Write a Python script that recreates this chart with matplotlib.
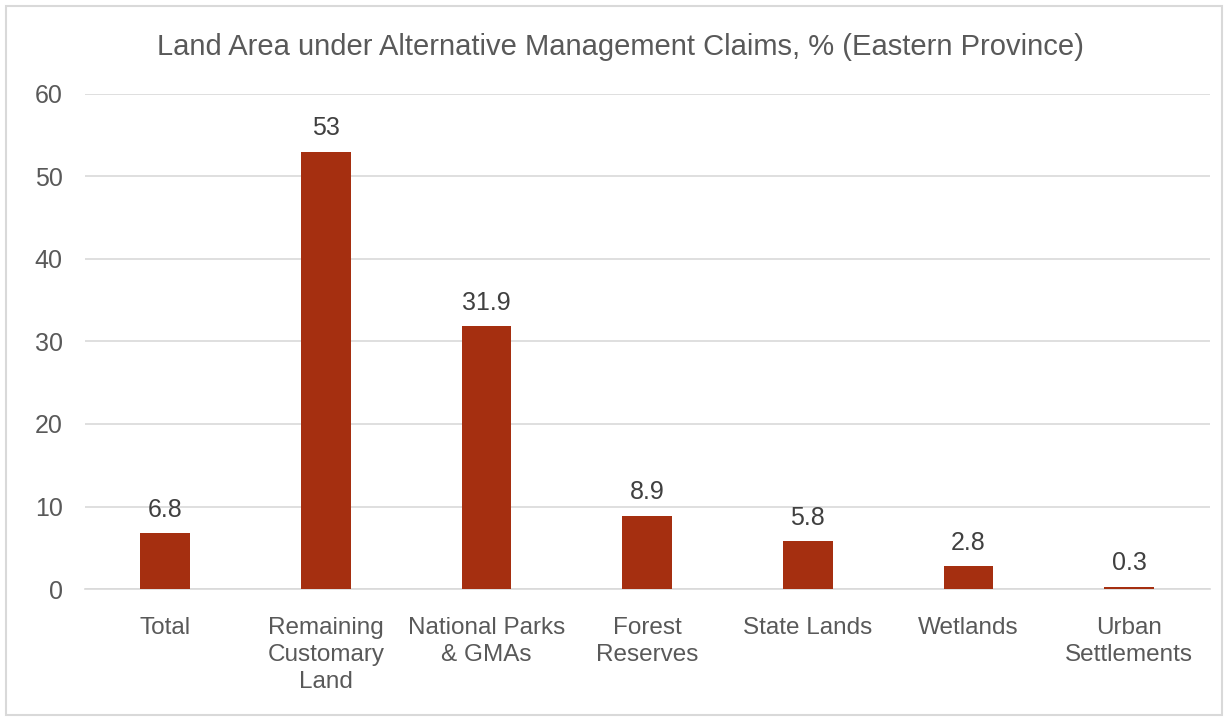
import matplotlib.pyplot as plt
from matplotlib.patches import Rectangle

categories = ['Total', 'Remaining\nCustomary\nLand', 'National Parks\n& GMAs', 'Forest\nReserves',
              'State Lands', 'Wetlands', 'Urban\nSettlements']
values = [6.8, 53, 31.9, 8.9, 5.8, 2.8, 0.3]
labels = ['6.8', '53', '31.9', '8.9', '5.8', '2.8', '0.3']
yticks = [0, 10, 20, 30, 40, 50, 60]

plt.rcParams['font.family'] = ['Liberation Sans', 'DejaVu Sans']

fig = plt.figure(figsize=(12.28, 7.21), dpi=100)
ax = fig.add_axes([0.069, 0.183, 0.916, 0.687])

x = list(range(len(categories)))
bars = ax.bar(x, values, width=0.31, color='#A52F10', zorder=3)
for xi, v, lab in zip(x, values, labels):
    ax.annotate(lab, (xi, v), xytext=(0, 8), textcoords='offset points',
                ha='center', va='bottom', fontsize=18, color='#404040')

ax.set_xlim(-0.5, len(categories) - 0.5)
ax.set_ylim(0, 60)
ax.set_yticks(yticks)
ax.set_xticks(x)
ax.set_xticklabels(categories, fontsize=17.5, color='#595959', linespacing=1.3)
ax.tick_params(axis='y', labelsize=18, labelcolor='#595959', length=0, pad=16)
ax.tick_params(axis='x', length=0, pad=20)
ax.grid(axis='y', color='#D9D9D9', linewidth=1.2, zorder=0)
for s in ['top', 'right', 'left']:
    ax.spines[s].set_visible(False)
ax.spines['bottom'].set_color('#D9D9D9')
ax.spines['bottom'].set_linewidth(1.2)

fig.text(0.505, 0.935, 'Land Area under Alternative Management Claims, % (Eastern Province)',
         ha='center', va='center', fontsize=21, color='#595959')

fig.patches.append(Rectangle((0.005, 0.008), 0.99, 0.984, transform=fig.transFigure,
                             fill=False, edgecolor='#D9D9D9', linewidth=1.5))

fig.savefig('out.png', dpi=100)
